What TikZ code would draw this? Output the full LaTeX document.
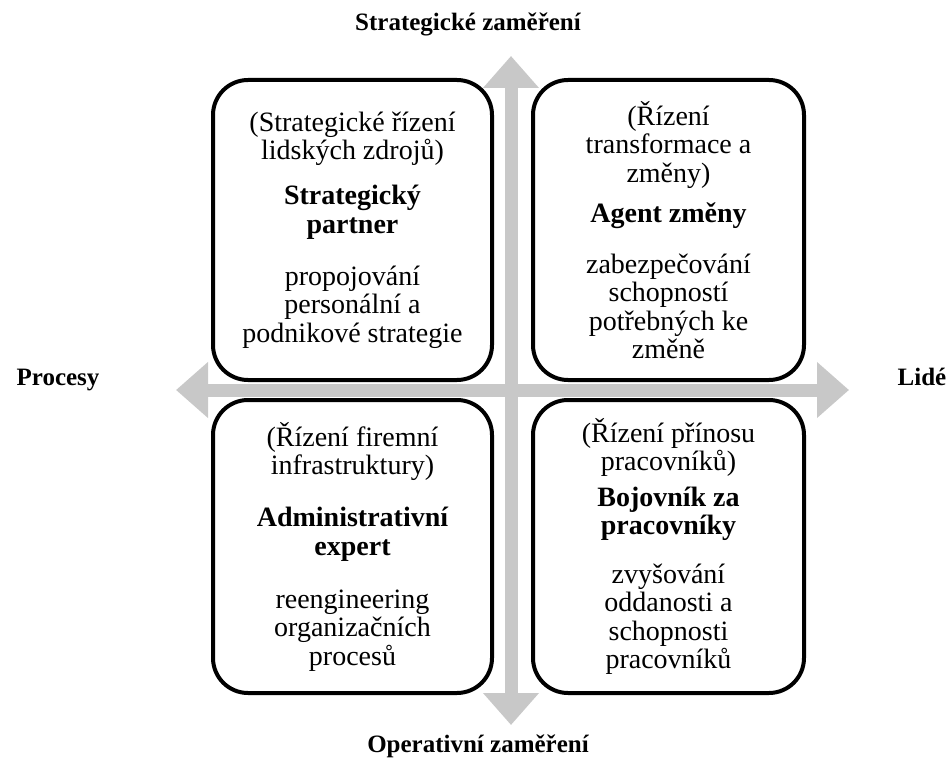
\documentclass[tikz,border=0pt]{standalone}
\usepackage{fontspec}
\setmainfont{Liberation Serif}
\usetikzlibrary{arrows.meta, positioning}
\definecolor{AxisGrey}{RGB}{200, 200, 200}

\tikzset{
  quadbox/.style={draw, line width=4pt, rounded corners=35pt, fill=white,
    align=center, inner sep=2pt,
    font=\fontsize{28}{28.5}\selectfont},
  axislabel/.style={anchor=base, font=\fontsize{25}{28}\selectfont\bfseries},
  axisarrow/.style={AxisGrey, line width=13pt,
    {Triangle[width=54pt,length=32pt]}-{Triangle[width=54pt,length=32pt]}}
}
\newcommand{\roletitle}[1]{{\fontsize{28}{28.5}\selectfont\bfseries #1}}

\begin{document}
\begin{tikzpicture}[x=1pt, y=-1pt]
  \useasboundingbox (0,0) rectangle (951,765);

  % axis labels
  \node[axislabel] (strategic) at (468,31) {Strategické zaměření};
  \node[axislabel] (operative) at (478,752) {Operativní zaměření};
  \node[axislabel] (processes) at (58,385) {Procesy};
  \node[axislabel] (people) at (922,385) {Lidé};

  % arrow ends
  \coordinate (vTop) at (511,56);
  \coordinate (vBottom) at (511,725);
  \coordinate (hLeft) at (176,390);
  \coordinate (hRight) at (849,390);
  \draw[axisarrow] (vTop) -- (vBottom);
  \draw[axisarrow] (hLeft) -- (hRight);

  % quadrants
  \node[quadbox, minimum width=279pt, minimum height=300pt] (partner) at (352.5,230) {
    (Strategické řízení\\ lidských zdrojů)\\[16.5pt]
    \roletitle{Strategický}\\ \roletitle{partner}\\[23.5pt]
    propojování\\ personální a\\ podnikové strategie};
  \node[quadbox, minimum width=271pt, minimum height=300pt] (change) at (668.5,230) {
    (Řízení\\ transformace a\\ změny)\\[11.5pt]
    \roletitle{Agent změny}\\[22.5pt]
    zabezpečování\\ schopností\\ potřebných ke\\ změně};
  \node[quadbox, minimum width=279pt, minimum height=293pt] (expert) at (352.5,546.5) {
    (Řízení firemní\\ infrastruktury)\\[23.5pt]
    \roletitle{Administrativní}\\ \roletitle{expert}\\[24.5pt]
    reengineering\\ organizačních\\ procesů};
  \node[quadbox, minimum width=271pt, minimum height=293pt] (champion) at (668.5,546.5) {
    (Řízení přínosu\\ pracovníků)\\[7pt]
    \roletitle{Bojovník za}\\ \roletitle{pracovníky}\\[20pt]
    zvyšování\\ oddanosti a\\ schopnosti\\ pracovníků};
\end{tikzpicture}
\end{document}
